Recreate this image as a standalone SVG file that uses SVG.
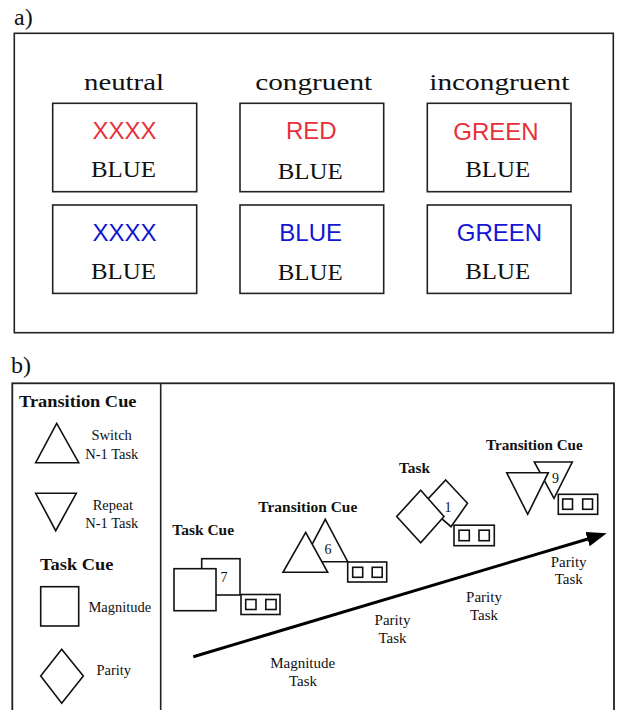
<svg xmlns="http://www.w3.org/2000/svg" width="619" height="710" viewBox="0 0 619 710">
<defs>
<style>
.frame{fill:#fff;stroke:#222;stroke-width:1.6}
.box{fill:#fff;stroke:#222;stroke-width:1.6}
.shape{fill:#fff;stroke:#111;stroke-width:1.6;stroke-linejoin:miter}
.serif{font-family:"Liberation Serif","Times New Roman",serif;fill:#111}
.sans{font-family:"Liberation Sans",Arial,sans-serif}
.hdr{font-size:24px;text-anchor:middle}
.word{font-size:24px;text-anchor:middle}
.red{fill:#e8303a}
.blue{fill:#1414d6}
.bold{font-weight:bold}
.lab{font-size:15px;text-anchor:middle}
.leg{font-size:14.5px;text-anchor:middle}
.num{font-size:14px}
</style>
<marker id="ah" viewBox="0 0 20 15" refX="10" refY="7.5" markerWidth="20" markerHeight="15" markerUnits="userSpaceOnUse" orient="auto">
<path d="M0,0 L20,7.5 L0,15 z" fill="#000"/>
</marker>
</defs>
<rect width="619" height="710" fill="#fff"/>

<!-- Panel a -->
<g id="panel-a">
<text class="serif" x="14" y="25" font-size="24">a)</text>
<rect class="frame" x="14.3" y="33.3" width="599" height="299.4"/>
<text class="serif hdr" x="124" y="90" textLength="80" lengthAdjust="spacingAndGlyphs">neutral</text>
<text class="serif hdr" x="313.7" y="89.5" textLength="117" lengthAdjust="spacingAndGlyphs">congruent</text>
<text class="serif hdr" x="499.3" y="89.5" textLength="140" lengthAdjust="spacingAndGlyphs">incongruent</text>
</g>
<g id="a-neutral-red">
<rect class="box" x="52.7" y="103.3" width="144" height="88.4"/>
<text class="sans word red" x="124.5" y="139.3">XXXX</text>
<text class="serif word" x="123.5" y="177.3" textLength="65" lengthAdjust="spacingAndGlyphs">BLUE</text>
</g>
<g id="a-congruent-red">
<rect class="box" x="240" y="103.3" width="143.7" height="88.4"/>
<text class="sans word red" x="311.3" y="139">RED</text>
<text class="serif word" x="310.2" y="178.5" textLength="65" lengthAdjust="spacingAndGlyphs">BLUE</text>
</g>
<g id="a-incongruent-red">
<rect class="box" x="427.3" y="103.3" width="143.7" height="88.4"/>
<text class="sans word red" x="496" y="140">GREEN</text>
<text class="serif word" x="497.7" y="176.7" textLength="65" lengthAdjust="spacingAndGlyphs">BLUE</text>
</g>
<g id="a-neutral-blue">
<rect class="box" x="52.7" y="205" width="144" height="88.4"/>
<text class="sans word blue" x="124.5" y="240.7">XXXX</text>
<text class="serif word" x="123.5" y="279.3" textLength="65" lengthAdjust="spacingAndGlyphs">BLUE</text>
</g>
<g id="a-congruent-blue">
<rect class="box" x="240" y="205" width="143.7" height="88.4"/>
<text class="sans word blue" x="310.7" y="240.5">BLUE</text>
<text class="serif word" x="310.2" y="280" textLength="65" lengthAdjust="spacingAndGlyphs">BLUE</text>
</g>
<g id="a-incongruent-blue">
<rect class="box" x="427.3" y="205" width="143.7" height="88.4"/>
<text class="sans word blue" x="499.5" y="241">GREEN</text>
<text class="serif word" x="497.7" y="278.5" textLength="65" lengthAdjust="spacingAndGlyphs">BLUE</text>
</g>

<!-- Panel b -->
<g id="panel-b">
<text class="serif" x="11" y="373" font-size="24">b)</text>
<rect x="12.3" y="383.3" width="601.7" height="340" fill="none" stroke="#222" stroke-width="1.8"/>
<line x1="160.7" y1="383.3" x2="160.7" y2="712" stroke="#222" stroke-width="1.6"/>
</g>

<g id="legend">
<text class="serif bold" x="19" y="406.7" font-size="17.5" textLength="117.5" lengthAdjust="spacingAndGlyphs">Transition Cue</text>
<g id="legend-switch">
<polygon class="shape" points="56.7,423.3 35.7,462.7 78.7,462.7"/>
<text class="serif leg" x="111.7" y="440">Switch</text>
<text class="serif leg" x="111.8" y="459">N-1 Task</text>
</g>
<g id="legend-repeat">
<polygon class="shape" points="35.7,493.3 76.3,493.3 55.7,530.7"/>
<text class="serif leg" x="112.8" y="510">Repeat</text>
<text class="serif leg" x="111.8" y="528.3">N-1 Task</text>
</g>
<text class="serif bold" x="40" y="570" font-size="17.5" textLength="73.3" lengthAdjust="spacingAndGlyphs">Task Cue</text>
<g id="legend-magnitude">
<rect class="shape" x="40.7" y="586.7" width="38" height="39.3"/>
<text class="serif leg" x="119.8" y="611.7">Magnitude</text>
</g>
<g id="legend-parity">
<polygon class="shape" points="61.7,649.3 83.3,676 61.7,703.3 40.7,676"/>
<text class="serif leg" x="113.7" y="675">Parity</text>
</g>
</g>

<g id="connectors">
<line x1="193.3" y1="656.7" x2="597.1" y2="536.2" stroke="#000" stroke-width="3" marker-end="url(#ah)"/>
</g>

<g id="labels-tasks">
<text class="serif lab" x="302.7" y="668.3">Magnitude</text>
<text class="serif lab" x="303" y="685.7">Task</text>
<text class="serif lab" x="392.5" y="625">Parity</text>
<text class="serif lab" x="392.5" y="642.5">Task</text>
<text class="serif lab" x="484" y="602.3">Parity</text>
<text class="serif lab" x="484" y="620">Task</text>
<text class="serif lab" x="568.7" y="566.7">Parity</text>
<text class="serif lab" x="568.7" y="584.3">Task</text>
</g>

<g id="step-task-cue">
<text class="serif bold" x="172.3" y="535" font-size="15" textLength="61.7" lengthAdjust="spacingAndGlyphs">Task Cue</text>
<rect class="shape" x="201.7" y="558.7" width="38.3" height="36.3"/>
<rect class="shape" x="174" y="568.7" width="42" height="42"/>
<text class="serif num" x="220.5" y="582.3">7</text>
<rect class="shape" x="241" y="594.5" width="39" height="20"/>
<rect class="shape" x="245.7" y="599.5" width="10.3" height="10"/>
<rect class="shape" x="265.8" y="599.5" width="10.3" height="10"/>
</g>

<g id="step-transition-switch">
<text class="serif bold" x="258.3" y="511.7" font-size="15" textLength="99" lengthAdjust="spacingAndGlyphs">Transition Cue</text>
<polygon class="shape" points="325.3,519.3 347.7,561.7 303,561.7"/>
<polygon class="shape" points="305.7,532.3 283,572.3 327.7,572.3"/>
<text class="serif num" x="324.5" y="554.3">6</text>
<rect class="shape" x="347.7" y="562" width="39" height="20"/>
<rect class="shape" x="352.7" y="567.3" width="10" height="10"/>
<rect class="shape" x="372.2" y="567.3" width="10" height="10"/>
</g>

<g id="step-task-parity">
<text class="serif bold" x="399" y="472.7" font-size="15" textLength="31" lengthAdjust="spacingAndGlyphs">Task</text>
<polygon class="shape" points="445.7,480 467.5,503.3 451,526.7 424,503.3"/>
<polygon class="shape" points="420.7,490.3 444,516.5 420.7,542.7 396.7,516.5"/>
<text class="serif num" x="444.5" y="511.7">1</text>
<rect class="shape" x="454" y="525.2" width="40.3" height="20.5"/>
<rect class="shape" x="459" y="530.2" width="10.3" height="10.5"/>
<rect class="shape" x="479" y="530.2" width="10.3" height="10.5"/>
</g>

<g id="step-transition-repeat">
<text class="serif bold" x="486" y="450" font-size="15" textLength="96.7" lengthAdjust="spacingAndGlyphs">Transition Cue</text>
<polygon class="shape" points="534.3,462 572.3,462 554,498.3"/>
<polygon class="shape" points="506.7,472.7 548.3,472.7 527.7,514.3"/>
<text class="serif num" x="552" y="482.7">9</text>
<rect class="shape" x="558.3" y="494.3" width="39.4" height="20"/>
<rect class="shape" x="562.7" y="499" width="9.8" height="10.3"/>
<rect class="shape" x="582.7" y="499" width="9.8" height="10.3"/>
</g>
</svg>
